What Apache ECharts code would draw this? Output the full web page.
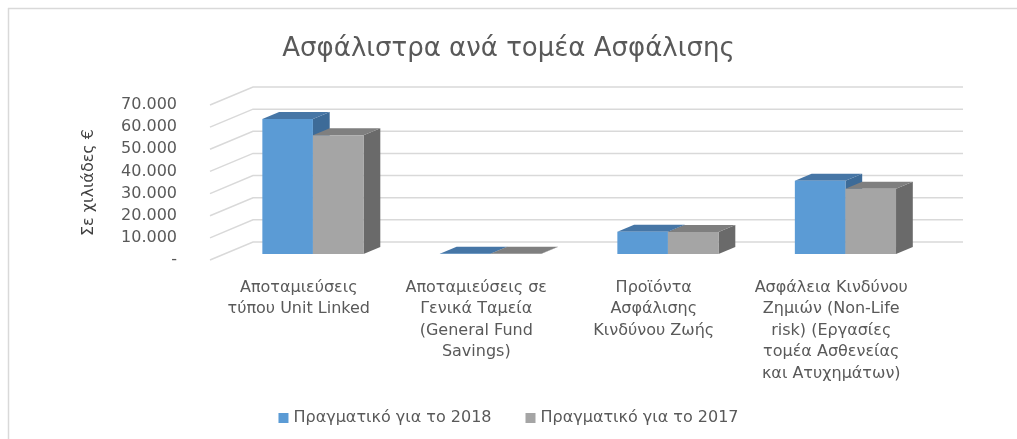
<!DOCTYPE html>
<html>
<head>
<meta charset="utf-8">
<script src="https://cdn.jsdelivr.net/npm/echarts@6/dist/echarts.min.js"></script>
<style>html,body{margin:0;padding:0;background:#fff}#c{width:1017px;height:439px}</style>
</head>
<body>
<div id="c"></div>
<script>
const categories = [
  'Αποταμιεύσεις\nτύπου Unit Linked',
  'Αποταμιεύσεις σε\nΓενικά Ταμεία\n(General Fund\nSavings)',
  'Προϊόντα\nΑσφάλισης\nΚινδύνου Ζωής',
  'Ασφάλεια Κινδύνου\nΖημιών (Non-Life\nrisk) (Εργασίες\nτομέα Ασθενείας\nκαι Ατυχημάτων)'
];
const seriesNames = ['Πραγματικό για το 2018', 'Πραγματικό για το 2017'];
const values2018 = [61000, 150, 10100, 33100];
const values2017 = [53700, 100, 10000, 29500];
const yTicks = [0, 10000, 20000, 30000, 40000, 50000, 60000, 70000];

const FONT = '"DejaVu Sans", "Noto Sans", sans-serif';
const DX = 43, DY = 18;           // depth vector of the floor
const F0 = 0.33, F1 = 0.72;       // bar depth range
const BAR_FRAC = 0.285;

const palettes = [
  { front: '#5b9bd5', top: '#4676a6', side: '#3d6b98' },
  { front: '#a5a5a5', top: '#7f7f7f', side: '#6a6a6a' }
];

function gridRender(params, api) {
  const cs = params.coordSys;
  const v = api.value(1);
  const y = api.coord([0, v])[1];
  const xl = cs.x, xr = cs.x + cs.width;
  return {
    type: 'polyline',
    shape: { points: [[xl, y], [xl + DX, y - DY], [xr + DX, y - DY]] },
    style: { stroke: '#d9d9d9', lineWidth: 1.5, fill: null },
    silent: true
  };
}

function barRender(si) {
  return function (params, api) {
    const idx = api.value(0);
    const top = api.coord([idx, api.value(1)]);
    const base = api.coord([idx, 0]);
    const band = api.size([1, 0])[0];
    const bw = band * BAR_FRAC;
    const x0 = si === 0 ? top[0] - bw : top[0];
    const x1 = x0 + bw;
    const fx = DX * F0, fy = DY * F0, bx = DX * F1, by = DY * F1;
    const yt = top[1], yb = base[1];
    const p = palettes[si];
    return {
      type: 'group',
      children: [
        { type: 'polygon', shape: { points: [[x1 + fx, yt - fy], [x1 + bx, yt - by], [x1 + bx, yb - by], [x1 + fx, yb - fy]] }, style: { fill: p.side } },
        { type: 'polygon', shape: { points: [[x0 + fx, yt - fy], [x1 + fx, yt - fy], [x1 + bx, yt - by], [x0 + bx, yt - by]] }, style: { fill: p.top } },
        { type: 'rect', shape: { x: x0 + fx, y: yt - fy, width: bw, height: Math.max(yb - yt, 0) }, style: { fill: p.front } }
      ]
    };
  };
}

const chart = echarts.init(document.getElementById('c'), null, { renderer: 'canvas' });
chart.setOption({
  animation: false,
  backgroundColor: '#fff',
  textStyle: { fontFamily: FONT },
  title: {
    text: 'Ασφάλιστρα ανά τομέα Ασφάλισης',
    left: 'center', top: 31,
    textStyle: { fontFamily: FONT, fontSize: 26, fontWeight: 'normal', color: '#595959' }
  },
  legend: {
    data: seriesNames,
    bottom: 8, left: 'center',
    icon: 'rect', itemWidth: 10, itemHeight: 10, itemGap: 34,
    textStyle: { fontFamily: FONT, fontSize: 16, color: '#595959' }
  },
  grid: { left: 210, right: 97, top: 105, bottom: 179, containLabel: false },
  xAxis: {
    type: 'category', data: categories,
    axisLine: { show: false }, axisTick: { show: false },
    axisLabel: { interval: 0, margin: 17, fontFamily: FONT, fontSize: 16, color: '#595959', lineHeight: 21.5 }
  },
  yAxis: {
    type: 'value', min: 0, max: 70000, interval: 10000,
    name: 'Σε χιλιάδες €', nameLocation: 'middle', nameGap: 113, nameRotate: 90,
    nameTextStyle: { fontFamily: FONT, fontSize: 16, color: '#404040' },
    axisLine: { show: false }, axisTick: { show: false }, splitLine: { show: false },
    axisLabel: {
      margin: 33, fontFamily: FONT, fontSize: 16, color: '#595959',
      formatter: v => v === 0 ? '-' : String(v).replace(/\B(?=(\d{3})+(?!\d))/g, '.')
    }
  },
  graphic: [
    { type: 'line', shape: { x1: 8.5, y1: 8, x2: 8.5, y2: 439 }, style: { stroke: '#d9d9d9', lineWidth: 1.5 }, silent: true },
    { type: 'line', shape: { x1: 8, y1: 8.5, x2: 1017, y2: 8.5 }, style: { stroke: '#d9d9d9', lineWidth: 1.5 }, silent: true }
  ],
  series: [
    { type: 'custom', name: 'grid', renderItem: gridRender, data: yTicks.map(v => [0, v]), encode: { x: 0, y: 1 }, silent: true, z: 1 },
    { type: 'custom', name: seriesNames[0], renderItem: barRender(0), data: values2018.map((v, i) => [i, v]), encode: { x: 0, y: 1 }, itemStyle: { color: palettes[0].front }, z: 2 },
    { type: 'custom', name: seriesNames[1], renderItem: barRender(1), data: values2017.map((v, i) => [i, v]), encode: { x: 0, y: 1 }, itemStyle: { color: palettes[1].front }, z: 3 }
  ]
});
</script>
</body>
</html>
